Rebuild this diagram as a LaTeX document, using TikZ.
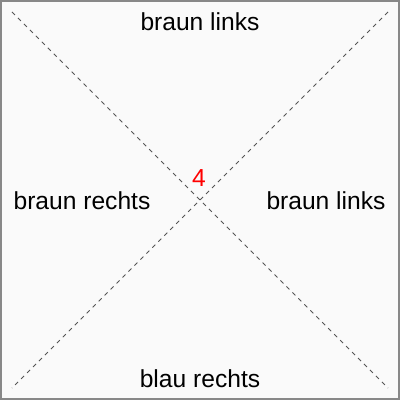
\documentclass[tikz,border=0pt]{standalone}
\usepackage{fontspec}
\setmainfont{Liberation Sans}
\definecolor{frame}{HTML}{888888}
\definecolor{paper}{HTML}{FAFAFA}
\definecolor{diag}{HTML}{555555}
\definecolor{numred}{HTML}{FF0000}

\begin{document}
\begin{tikzpicture}[x=0.025cm,y=-0.025cm,
  lbl/.style={font=\fontsize{17.5}{20}\selectfont,inner sep=0pt},
  cross/.style={diag,line width=0.6pt,dash pattern=on 3pt off 3pt}]
  \useasboundingbox (0,0) rectangle (400,400);
  \fill[paper] (0,0) rectangle (400,400);
  \draw[frame,line width=2pt] (1,1) rectangle (399,399);
  % corners of the cross
  \coordinate (tl) at (12,12);
  \coordinate (tr) at (388,12);
  \coordinate (bl) at (12,388);
  \coordinate (br) at (388,388);
  \draw[cross] (tl) -- (br);
  \draw[cross] (tr) -- (bl);
  \node[lbl] (top) at (200,22) {braun links};
  \node[lbl] (left) at (82,201) {braun rechts};
  \node[lbl] (right) at (326,201) {braun links};
  \node[lbl] (bottom) at (200,379) {blau rechts};
  \node[lbl,text=numred] (num) at (199,178) {4};
\end{tikzpicture}
\end{document}
